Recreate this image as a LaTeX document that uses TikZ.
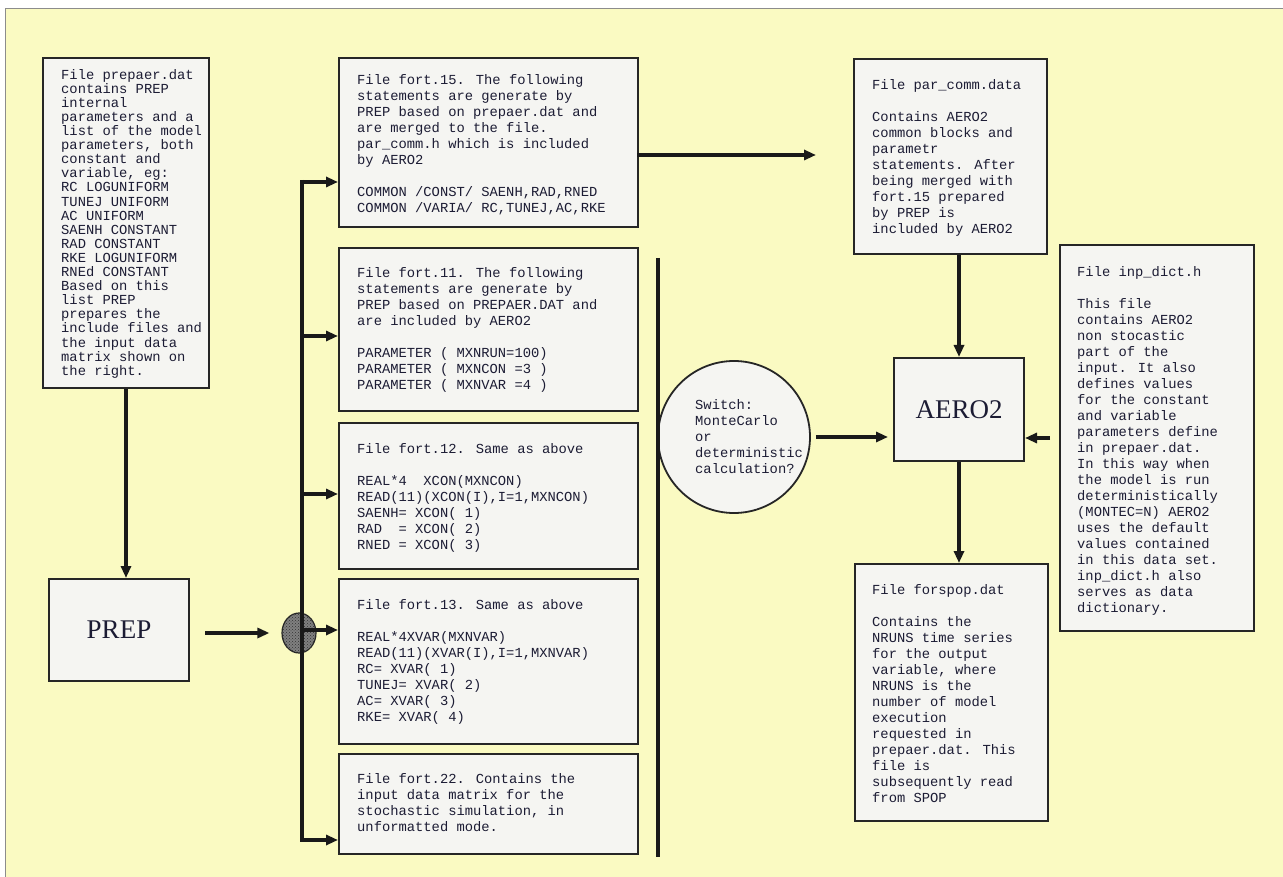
\documentclass[tikz,border=0pt]{standalone}
\usepackage{fontspec}
\setmainfont{Liberation Serif}
\newfontfamily\mono{Liberation Mono}
\usetikzlibrary{arrows.meta,patterns,shapes.geometric}
\definecolor{bgyellow}{RGB}{250,250,194}
\definecolor{boxfill}{RGB}{245,245,242}
\definecolor{ink}{RGB}{28,28,52}
\begin{document}
\begin{tikzpicture}[x=1pt,y=-1pt,
  filebox/.style={draw=black!85, line width=2pt, fill=boxfill, inner sep=0pt, anchor=north west},
  txt/.style={anchor=north west, inner sep=0pt, align=left, text=ink, font=\mono\fontsize{13.8}{16}\selectfont},
  big/.style={text=ink, font=\fontsize{27}{30}\selectfont},
  conn/.style={line width=3.2pt, draw=black!90, -{Triangle[length=12pt,width=10pt]}},
  bus/.style={line width=3.2pt, draw=black!90}]
\useasboundingbox (0,0) rectangle (1283,877);
\fill[white] (0,0) rectangle (1283,877);
\fill[bgyellow] (5,8) rectangle (1283,877);
\draw[black!45, line width=0.8pt] (5,877) -- (5,8) -- (1283,8);

% boxes
\node[filebox, minimum width=166, minimum height=330] (prepaer) at (42,57) {};
\node[filebox, minimum width=140, minimum height=102] (prep) at (48,578) {};
\node[big] (preptxt) at (prep.center) {PREP};
\node[filebox, minimum width=299, minimum height=169] (f15) at (338,57) {};
\node[filebox, minimum width=299, minimum height=163] (f11) at (338,247) {};
\node[filebox, minimum width=299, minimum height=146] (f12) at (338,422) {};
\node[filebox, minimum width=299, minimum height=165] (f13) at (338,578) {};
\node[filebox, minimum width=299, minimum height=100] (f22) at (338,753) {};
\node[filebox, minimum width=193, minimum height=195] (pc) at (853,58) {};
\node[filebox, minimum width=130, minimum height=103] (aero) at (893,357) {};
\node[big] (aerotxt) at (aero.center) {AERO2};
\node[filebox, minimum width=194, minimum height=386] (inp) at (1059,244) {};
\node[filebox, minimum width=193, minimum height=257] (fs) at (854,563) {};
\node[circle, draw=black!85, line width=1.8pt, fill=boxfill, minimum size=152pt, inner sep=0pt] (sw) at (734,437) {};
\node[ellipse, draw=black!85, line width=1.2pt, fill=black!50, minimum width=34pt, minimum height=40pt, inner sep=0pt,
      postaction={pattern=crosshatch dots, pattern color=black!80}] (hub) at (299,633) {};

% texts
\node[txt, font=\mono\fontsize{13.8}{14.1}\selectfont] (prepaert) at (61,69) {File prepaer.dat\\contains PREP\\internal\\parameters and a\\list of the model\\parameters, both\\constant and\\variable, eg:\\RC LOGUNIFORM\\TUNEJ UNIFORM\\AC UNIFORM\\SAENH CONSTANT\\RAD CONSTANT\\RKE LOGUNIFORM\\RNEd CONSTANT\\Based on this\\list PREP\\prepares the\\include files and\\the input data\\matrix shown on\\the right.};
\node[txt] (f15t) at (357,74) {File fort.15. The following\\statements are generate by\\PREP based on prepaer.dat and\\are merged to the file.\\par\_comm.h which is included\\by AERO2\\[16pt]COMMON /CONST/ SAENH,RAD,RNED\\COMMON /VARIA/ RC,TUNEJ,AC,RKE};
\node[txt] (f11t) at (357,267) {File fort.11. The following\\statements are generate by\\PREP based on PREPAER.DAT and\\are included by AERO2\\[16pt]PARAMETER ( MXNRUN=100)\\PARAMETER ( MXNCON =3 )\\PARAMETER ( MXNVAR =4 )};
\node[txt] (f12t) at (357,443) {File fort.12. Same as above\\[16pt]REAL*4\ \ XCON(MXNCON)\\READ(11)(XCON(I),I=1,MXNCON)\\SAENH= XCON( 1)\\RAD\ \ = XCON( 2)\\RNED = XCON( 3)};
\node[txt] (f13t) at (357,599) {File fort.13. Same as above\\[16pt]REAL*4XVAR(MXNVAR)\\READ(11)(XVAR(I),I=1,MXNVAR)\\RC= XVAR( 1)\\TUNEJ= XVAR( 2)\\AC= XVAR( 3)\\RKE= XVAR( 4)};
\node[txt] (f22t) at (357,773) {File fort.22. Contains the\\input data matrix for the\\stochastic simulation, in\\unformatted mode.};
\node[txt] (pct) at (872,79) {File par\_comm.data\\[16pt]Contains AERO2\\common blocks and\\parametr\\statements. After\\being merged with\\fort.15 prepared\\by PREP is\\included by AERO2};
\node[txt] (inpt) at (1077,266) {File inp\_dict.h\\[16pt]This file\\contains AERO2\\non stocastic\\part of the\\input. It also\\defines values\\for the constant\\and variable\\parameters define\\in prepaer.dat.\\In this way when\\the model is run\\deterministically\\(MONTEC=N) AERO2\\uses the default\\values contained\\in this data set.\\inp\_dict.h also\\serves as data\\dictionary.};
\node[txt] (fst) at (872,584) {File forspop.dat\\[16pt]Contains the\\NRUNS time series\\for the output\\variable, where\\NRUNS is the\\number of model\\execution\\requested in\\prepaer.dat. This\\file is\\subsequently read\\from SPOP};
\node[txt] (swt) at (695,399) {Switch:\\MonteCarlo\\or\\deterministic\\calculation?};

% bus lines
\coordinate (bustop) at (302,180);
\coordinate (busbot) at (302,842);
\draw[bus] (bustop) -- (busbot);
\coordinate (sepTop) at (658,258);
\coordinate (sepBot) at (658,857);
\draw[bus] (sepTop) -- (sepBot);

% branch arrows
\coordinate (b15) at (301,182);
\coordinate (b11) at (301,336);
\coordinate (b12) at (301,494);
\coordinate (b13) at (301,630);
\coordinate (b22) at (301,840);
\draw[conn] (b15) -- (b15 -| f15.west);
\draw[conn] (b11) -- (b11 -| f11.west);
\draw[conn] (b12) -- (b12 -| f12.west);
\draw[conn] (b13) -- (b13 -| f13.west);
\draw[conn] (b22) -- (b22 -| f22.west);

% other connectors
\draw[conn] (prepaer.south) -- (prepaer.south |- prep.north);
\draw[conn, shorten <=15pt, shorten >=12pt] (prep.east |- hub.west) -- (hub.west);
\coordinate (p15s) at (637,155);
\coordinate (p15e) at (816,155);
\draw[conn] (p15s) -- (p15e);
\draw[conn] (aero.north |- pc.south) -- (aero.north);
\draw[conn, shorten <=5pt, shorten >=5pt] (sw.east) -- (sw.east -| aero.west);
\draw[conn, shorten <=9pt] (inp.west) -- (inp.west -| aero.east);
\draw[conn] (aero.south) -- (aero.south |- fs.north);
\end{tikzpicture}
\end{document}
